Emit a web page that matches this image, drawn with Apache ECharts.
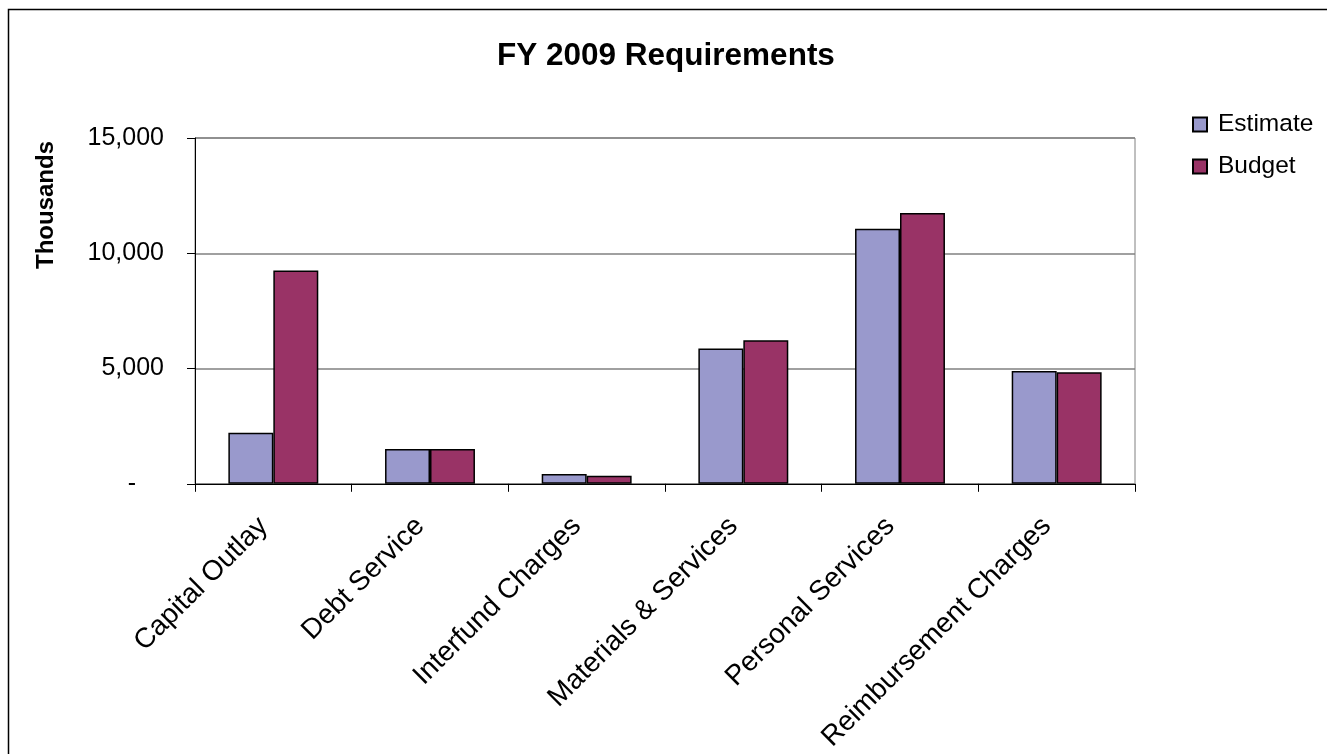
<!DOCTYPE html>
<html>
<head>
<meta charset="utf-8">
<title>FY 2009 Requirements</title>
<script src="https://cdn.jsdelivr.net/npm/echarts@6/dist/echarts.min.js"></script>
<style>
  html, body { margin: 0; padding: 0; background: #fff; }
  #chart { width: 1327px; height: 754px; }
</style>
</head>
<body>
<div id="chart"></div>
<script>
// Requirement categories (thousands of dollars)
const categories = [
  'Capital Outlay',
  'Debt Service',
  'Interfund Charges',
  'Materials & Services',
  'Personal Services',
  'Reimbursement Charges'
];
const estimate = [2215, 1510, 420, 5870, 11060, 4890];
const budget   = [9250, 1510, 350, 6230, 11750, 4835];
const yTicks = [0, 5000, 10000, 15000];

const FONT = '"Liberation Sans", Arial, sans-serif';

const chart = echarts.init(document.getElementById('chart'), null, { renderer: 'canvas' });

chart.setOption({
  backgroundColor: '#ffffff',
  animation: false,
  title: {
    text: 'FY 2009 Requirements',
    left: 497,
    top: 40,
    padding: 0,
    textStyle: { fontFamily: FONT, fontSize: 31.5, fontWeight: 'bold', color: '#000' }
  },
  legend: {
    orient: 'vertical',
    left: 1187,
    top: 107,
    itemWidth: 14,
    itemHeight: 14,
    itemGap: 17,
    icon: 'rect',
    textStyle: { fontFamily: FONT, fontSize: 24.5, color: '#000', padding: [0, 0, 0, 6] },
    data: ['Estimate', 'Budget']
  },
  graphic: [
    {
      type: 'rect',
      silent: true,
      shape: { x: 8.5, y: 9.5, width: 1400, height: 800 },
      style: { fill: 'none', stroke: '#000', lineWidth: 1.5 }
    },
    {
      type: 'text',
      x: 46,
      y: 205,
      rotation: Math.PI / 2,
      style: {
        text: 'Thousands',
        font: 'bold 24px ' + FONT,
        fill: '#000',
        textAlign: 'center',
        textVerticalAlign: 'middle'
      }
    }
  ],
  grid: {
    left: 195,
    right: 192,
    top: 138,
    bottom: 269,
    show: true,
    borderColor: '#808080',
    borderWidth: 1,
    containLabel: false
  },
  xAxis: {
    type: 'category',
    data: categories,
    boundaryGap: true,
    axisLine: { lineStyle: { color: '#000', width: 1 } },
    axisTick: { show: true, length: 8, alignWithLabel: false, lineStyle: { color: '#000' } },
    axisLabel: {
      interval: 0,
      rotate: 45,
      margin: 48,
      align: 'right',
      verticalAlign: 'bottom',
      fontFamily: FONT,
      fontSize: 28,
      color: '#000'
    }
  },
  yAxis: {
    type: 'value',
    min: yTicks[0],
    max: yTicks[yTicks.length - 1],
    interval: yTicks[1] - yTicks[0],
    axisLine: { show: true, lineStyle: { color: '#000', width: 1 } },
    axisTick: { show: true, length: 8, lineStyle: { color: '#000' } },
    splitLine: { show: true, lineStyle: { color: '#808080', width: 1.5 } },
    axisLabel: {
      margin: 31,
      fontFamily: FONT,
      fontSize: 25,
      color: '#000',
      formatter: function (v) {
        if (v === 0) return '{z|-}';
        return v.toLocaleString('en-US');
      },
      rich: {
        z: { fontFamily: FONT, fontSize: 25, color: '#000', padding: [0, 28, 0, 0] }
      }
    }
  },
  series: [
    {
      name: 'Estimate',
      type: 'bar',
      data: estimate,
      barWidth: '28.7%',
      barGap: '0%',
      itemStyle: { color: '#9999CC', borderColor: '#000', borderWidth: 1.5 }
    },
    {
      name: 'Budget',
      type: 'bar',
      data: budget,
      barWidth: '28.7%',
      barGap: '0%',
      itemStyle: { color: '#993366', borderColor: '#000', borderWidth: 1.5 }
    }
  ]
});
</script>
</body>
</html>
